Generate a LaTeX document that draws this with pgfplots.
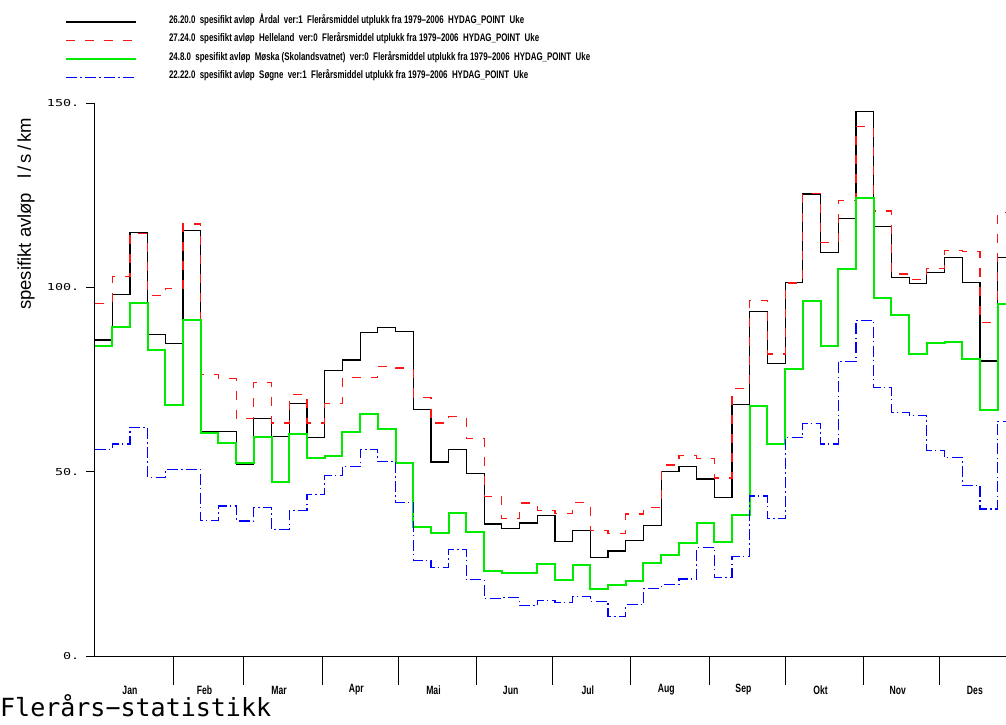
\documentclass[border=0pt]{standalone}
\usepackage{pgfplots}
\pgfplotsset{compat=1.18}
\usepackage{pgfplotstable}
\usepackage{fontspec}
\setmainfont{Liberation Sans}
\newfontfamily\monofont{DejaVu Sans Mono}
\newfontfamily\tickfont[FakeStretch=1.4]{DejaVu Sans Mono}
\newfontfamily\narrowfont[FakeStretch=0.72]{Liberation Sans}
\definecolor{lgreen}{RGB}{0,235,0}
\definecolor{lred}{RGB}{255,20,20}
\definecolor{lblue}{RGB}{0,0,255}

\pgfplotstableread{
x a b c d
0 85.7 95.7 84.2 56.0
7 98.0 102.9 89.2 57.5
14 114.9 114.7 95.8 62.0
21 87.3 97.7 83.0 48.5
28 84.8 99.7 68.0 50.5
35 115.4 117.2 91.2 50.6
42 60.8 76.4 60.5 36.8
49 61.0 75.2 57.8 40.7
56 52.0 64.4 52.3 36.6
63 64.4 74.2 59.5 40.2
70 59.5 63.2 47.3 34.3
77 68.4 71.0 60.1 39.5
84 59.3 63.2 53.6 43.9
91 77.5 68.5 54.2 48.9
98 80.3 75.5 60.7 51.3
105 87.8 75.5 65.6 56.0
112 89.1 78.6 61.6 52.7
119 88.1 78.1 52.4 41.7
126 66.9 70.2 35.1 25.9
133 52.6 63.2 33.3 24.0
140 56.0 64.9 38.8 28.9
147 49.6 59.0 33.7 20.7
154 35.8 43.3 23.0 15.7
161 34.5 37.3 22.5 15.8
168 36.1 41.5 22.5 13.6
175 38.1 39.5 25.0 15.1
182 31.0 38.6 20.7 14.5
189 34.0 41.6 24.8 16.1
196 26.7 34.0 18.3 14.8
203 28.5 33.2 19.3 10.8
210 31.3 38.5 20.3 13.9
217 35.5 40.3 25.2 18.3
224 50.0 51.8 27.3 19.3
231 51.3 54.3 30.7 20.9
238 48.0 53.5 36.1 29.4
245 42.9 48.3 30.8 21.4
252 68.3 72.5 38.2 26.9
259 93.4 96.5 67.8 43.4
266 79.4 81.9 57.6 37.2
273 101.3 101.2 77.9 59.3
280 125.3 125.5 96.3 63.1
287 109.5 112.2 84.2 57.5
294 118.7 123.6 105.1 79.9
301 147.7 143.6 124.1 91.1
308 116.5 120.7 97.1 72.9
315 102.7 103.6 92.4 66.1
322 101.0 102.1 81.9 65.2
329 104.1 105.1 85.0 55.8
336 108.0 110.0 85.2 53.9
343 101.4 109.7 80.6 46.2
350 80.0 90.5 66.8 39.9
357 108.2 120.4 95.6 63.7
364 108.2 120.4 95.6 63.7
}\datatable

\begin{document}
\begin{tikzpicture}[x=1pt,y=1pt]
\begin{axis}[
  at={(94.5pt,68pt)}, anchor=south west,
  scale only axis, width=911.5pt, height=553pt,
  xmin=0, xmax=360.3, ymin=0, ymax=150,
  axis lines=left, axis line style={-, black, line width=1pt},
  clip mode=individual,
  tick align=outside,
  major tick length=9pt,
  xtick={31,59,90,120,151,181,212,243,273,304,334},
  xticklabels={},
  xtick style={black, line width=0.8pt, /pgfplots/major tick length=29pt},
  ytick={0,50,100,150},
  yticklabels={0.,50.,100.,150.},
  ytick style={black, line width=0.8pt},
  yticklabel style={font=\tickfont\fontsize{9.6}{10}\selectfont, inner sep=0pt, xshift=-6pt},
  legend cell align=left,
  legend image code/.code={\draw[#1] (0pt,0pt) -- (70pt,0pt);},
  legend style={at={(-0.03237,1.1591)}, anchor=north west, draw=none, fill=none,
    inner sep=0pt, outer sep=0pt, row sep=4.5pt, column sep=32pt,
    font=\narrowfont\bfseries\fontsize{11}{12}\selectfont,
    nodes={inner sep=0pt, text height=8pt, text depth=6pt}},
]
\addplot[const plot, black, line width=1.2pt] table[x=x,y=a]{\datatable};
\addlegendentry{26.20.0~~spesifikt avløp~~Årdal~~ver:1~~Flerårsmiddel utplukk fra 1979–2006~~HYDAG\_POINT~~Uke}
\addplot[const plot, lred, line width=1.2pt, dash pattern=on 9pt off 10pt] table[x=x,y=b]{\datatable};
\addlegendentry{27.24.0~~spesifikt avløp~~Helleland~~ver:0~~Flerårsmiddel utplukk fra 1979–2006~~HYDAG\_POINT~~Uke}
\addplot[const plot, lgreen, line width=2pt] table[x=x,y=c]{\datatable};
\addlegendentry{24.8.0~~spesifikt avløp~~Møska (Skolandsvatnet)~~ver:0~~Flerårsmiddel utplukk fra 1979–2006~~HYDAG\_POINT~~Uke}
\addplot[const plot, lblue, line width=1.2pt, dash pattern=on 11pt off 3pt on 1.5pt off 3.5pt] table[x=x,y=d]{\datatable};
\addlegendentry{22.22.0~~spesifikt avløp~~Søgne~~ver:1~~Flerårsmiddel utplukk fra 1979–2006~~HYDAG\_POINT~~Uke}
\foreach \d/\m in {14/Jan,43.5/Feb,73/Mar,103.5/Apr,134/Mai,164.5/Jun,195/Jul,226/Aug,256.5/Sep,287/Okt,317.5/Nov,348/Des}{
  \edef\tmp{\noexpand\node[font=\noexpand\narrowfont\noexpand\bfseries\noexpand\fontsize{12}{13}\noexpand\selectfont, inner sep=0pt, yshift=-34pt] at (axis cs:\d,0) {\m};}
  \tmp
}
\end{axis}
\node[anchor=center, rotate=90, inner sep=0pt, font=\fontsize{18.5}{20}\selectfont] at (26pt,510pt) {spesifikt avløp\hspace{14pt}l\,/\,s\,/\,km};
\node[anchor=west, inner sep=0pt, font=\monofont\fontsize{25}{27}\selectfont] at (0pt,18pt) {Flerårs−statistikk};
\pgfresetboundingbox
\path[use as bounding box] (0pt,0pt) rectangle (1006pt,724pt);
\end{tikzpicture}
\end{document}
